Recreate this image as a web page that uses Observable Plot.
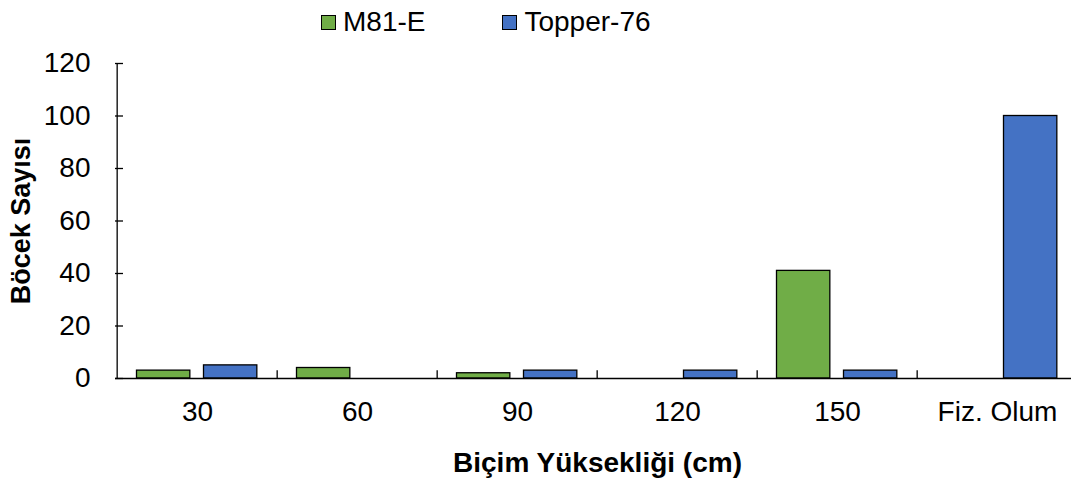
<!DOCTYPE html>
<html>
<head>
<meta charset="utf-8">
<script src="https://cdn.jsdelivr.net/npm/d3@7"></script>
<script src="https://cdn.jsdelivr.net/npm/@observablehq/plot@0.6"></script>
<style>
  html, body { margin: 0; padding: 0; background: #fff; }
  #wrap { position: relative; width: 1071px; height: 481px; overflow: hidden; background: #fff;
          font-family: "Liberation Sans", Arial, sans-serif; color: #000; }
  #chart { position: absolute; left: 0; top: 0; }
  .legend { position: absolute; top: 4px; left: 321px; display: flex; align-items: center; font-size: 28px; line-height: 36px; }
  .legend .item { display: flex; align-items: center; margin-right: 77px; }
  .legend .sw { width: 13px; height: 13px; border: 1.3px solid #000; margin-right: 7px; box-sizing: content-box; }
</style>
</head>
<body>
<div id="wrap">
  <div id="chart"></div>
  <div class="legend" id="legend"></div>
</div>
<script>
// ---- data ----
const categories = ["30", "60", "90", "120", "150", "Fiz. Olum"];
const seriesNames = ["M81-E", "Topper-76"];
const m81Values = [3, 4, 2, 0, 41, 0];
const topperValues = [5, 0, 3, 3, 3, 100];
const yTicks = [0, 20, 40, 60, 80, 100, 120];
const seriesColors = ["#70AD47", "#4472C4"];
const xTitle = "Biçim Yüksekliği (cm)";
const yTitle = "Böcek Sayısı";

// ---- layout ----
const W = 1071, H = 481;
const mL = 115, mR = -8, mT = 63, mB = 103;
const bandW = (W - mL - mR) / categories.length;
const outerPad = 19.5, barW = 54, gap = 13;
const font = "'Liberation Sans', Arial, sans-serif";

const seriesValues = [m81Values, topperValues];
const rows = [];
seriesNames.forEach((s, si) => {
  categories.forEach((c, ci) => {
    rows.push({category: c, series: s, value: seriesValues[si][ci]});
  });
});

const barMarks = seriesNames.map((s, si) => {
  const left = outerPad + si * (barW + gap);
  return Plot.barY(rows.filter(d => d.series === s && d.value > 0), {
    x: "category", y: "value",
    fill: seriesColors[si], stroke: "#000", strokeWidth: 1.3,
    insetLeft: left, insetRight: bandW - left - barW
  });
});

const chart = Plot.plot({
  width: W, height: H,
  marginLeft: mL, marginRight: mR, marginTop: mT, marginBottom: mB,
  style: {fontFamily: font, fontSize: "28px", color: "#000", background: "#fff", overflow: "visible"},
  x: {type: "band", domain: categories, padding: 0},
  y: {domain: [yTicks[0], yTicks[yTicks.length - 1]]},
  marks: [
    ...barMarks,
    Plot.ruleY([0], {stroke: "#000", strokeWidth: 1.3}),
    Plot.ruleX([categories[0]], {dx: -bandW / 2, stroke: "#000", strokeWidth: 1.3}),
    Plot.ruleX(categories.slice(1), {y1: 0, y2: 3, dx: -bandW / 2, stroke: "#000", strokeWidth: 1.3}),
    Plot.axisY({ticks: yTicks, tickSize: -8, tickPadding: 33, label: null, stroke: "#000", strokeWidth: 1.3, fontSize: 28}),
    Plot.axisX({tickSize: 0, tickPadding: 23, label: null, fontSize: 28}),
    Plot.text([xTitle], {frameAnchor: "bottom", lineAnchor: "middle", dy: 85, fontWeight: "bold", fontSize: 28, fill: "#000"}),
    Plot.text([yTitle], {frameAnchor: "left", textAnchor: "middle", lineAnchor: "middle", dx: -94, rotate: -90, fontWeight: "bold", fontSize: 27, fill: "#000"})
  ]
});
document.getElementById("chart").appendChild(chart);

// legend
const legend = document.getElementById("legend");
seriesNames.forEach((s, si) => {
  const item = document.createElement("div");
  item.className = "item";
  const sw = document.createElement("span");
  sw.className = "sw";
  sw.style.background = seriesColors[si];
  const label = document.createElement("span");
  label.textContent = s;
  item.appendChild(sw);
  item.appendChild(label);
  legend.appendChild(item);
});
</script>
</body>
</html>
